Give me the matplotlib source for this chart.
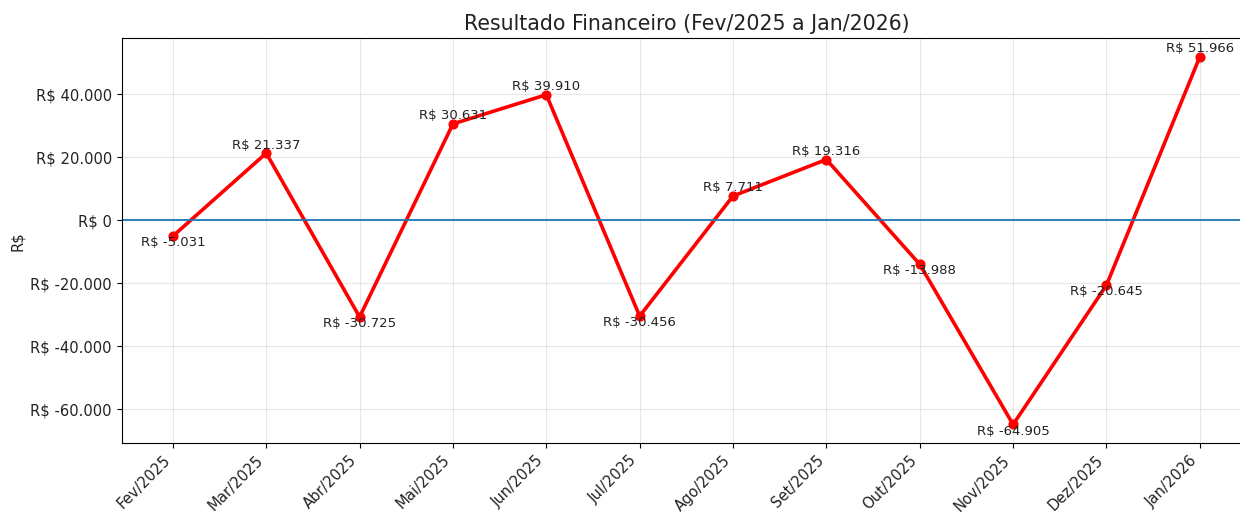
import matplotlib
matplotlib.use("Agg")
import matplotlib.pyplot as plt
from matplotlib.ticker import FuncFormatter

# monthly results
meses = ["Fev/2025", "Mar/2025", "Abr/2025", "Mai/2025", "Jun/2025", "Jul/2025",
         "Ago/2025", "Set/2025", "Out/2025", "Nov/2025", "Dez/2025", "Jan/2026"]
resultado = [-5031, 21337, -30725, 30631, 39910, -30456,
             7711, 19316, -13988, -64905, -20645, 51966]


def brl(v):
    # brazilian style thousands separator
    return "R$ " + "{:,.0f}".format(v).replace(",", ".")


fig = plt.figure(figsize=(12.4, 5.12), dpi=100)
ax = fig.add_axes([0.098, 0.135, 0.911, 0.79])

x = list(range(len(meses)))
ax.plot(x, resultado, color="red", linewidth=2.6, marker="o", markersize=6.3)
ax.axhline(0, color="C0", linewidth=1.3)

# label each point
for i, v in enumerate(resultado):
    if v >= 0:
        ax.annotate(brl(v), (i, v), xytext=(0, 5.8), textcoords="offset points",
                    ha="center", va="center", fontsize=9.5, color="#222222")
    else:
        ax.annotate(brl(v), (i, v), xytext=(0, -4.8), textcoords="offset points",
                    ha="center", va="center", fontsize=9.5, color="#222222")

ax.set_xticks(x)
ax.set_xticklabels(meses, rotation=45, ha="right")
ax.tick_params(labelsize=10.6, labelcolor="#222222")
ax.yaxis.set_major_formatter(FuncFormatter(lambda v, p: brl(v)))
ax.set_ylabel("R$", fontsize=10.6, color="#222222")
ax.set_title("Resultado Financeiro (Fev/2025 a Jan/2026)", fontsize=14.8, color="#222222")
ax.grid(True, alpha=0.3)

fig.savefig("out.png", dpi=100)
